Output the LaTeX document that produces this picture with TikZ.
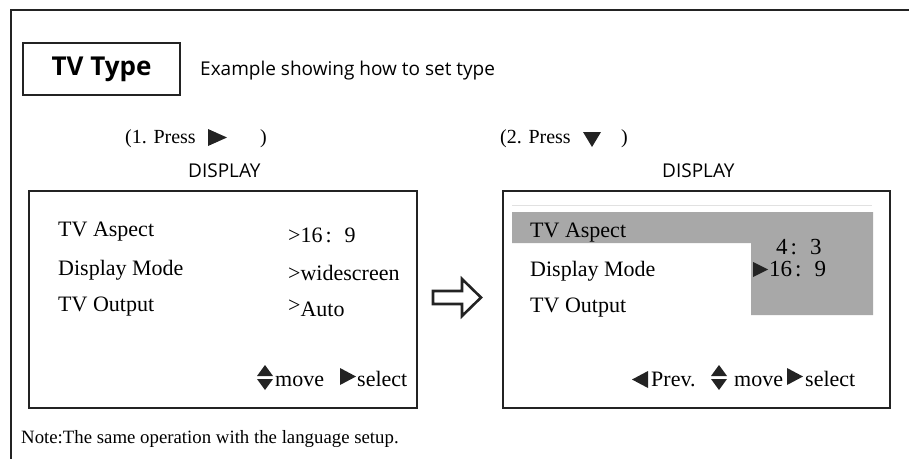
\documentclass[tikz,border=0pt]{standalone}
\usepackage{fontspec}
\setmainfont{Liberation Serif}
\newfontfamily\sansf{Open Sans}
\definecolor{ink}{RGB}{35,35,35}
\definecolor{hl}{RGB}{168,168,168}
\definecolor{faint}{RGB}{225,225,225}
\tikzset{
  frameline/.style={draw=ink, line width=1.8pt},
  screen/.style={draw=ink, line width=1.8pt, anchor=north west, inner sep=0pt},
  lbl/.style={anchor=base west, inner sep=0pt, font=\fontsize{22}{26}\selectfont},
  num/.style={anchor=base west, inner sep=0pt, font=\fontsize{23}{26}\selectfont},
  hdr/.style={anchor=base west, inner sep=0pt, font=\fontsize{20}{24}\selectfont},
  sanslbl/.style={anchor=base west, inner sep=0pt, font=\sansf\fontsize{19}{23}\selectfont},
  tri/.style={fill=ink, draw=none},
}
\begin{document}
\begin{tikzpicture}[x=1pt,y=-1pt]
\useasboundingbox (0,0) rectangle (909,458);
% outer frame (top and left only)
\draw[frameline] (11,459) -- (11,10) -- (910,10);
% title box
\node[draw=ink, line width=1.6pt, minimum width=157pt, minimum height=52pt,
      inner sep=0pt, font=\sansf\bfseries\fontsize{26}{30}\selectfont] (tvtype) at (101.5,69) {TV Type};
\node[sanslbl] (example) at (200,75) {Example showing how to set type};
% step headers
\node[hdr] (press1) at (125,143) {(1. Press};
\fill[tri] (208,129) -- (208,146) -- (227,137.5) -- cycle;
\node[hdr] (press1end) at (260,143) {)};
\node[sanslbl] (disp1) at (188,177) {DISPLAY};
\node[hdr] (press2) at (500,143) {(2. Press};
\fill[tri] (583,132) -- (601,132) -- (592,147) -- cycle;
\node[hdr] (press2end) at (621,143) {)};
\node[sanslbl] (disp2) at (662,177) {DISPLAY};
% screens
\node[screen, minimum width=388pt, minimum height=217pt] (screenL) at (28,190) {};
\node[screen, minimum width=387pt, minimum height=217pt] (screenR) at (502,190) {};
% left screen contents
\node[lbl] (aspL) at (58,236) {TV Aspect};
\node[lbl] (modeL) at (58,275) {Display Mode};
\node[lbl] (outL) at (58,311) {TV Output};
\node[lbl] (v1) at (288,242) {>16\hspace{3pt}:\hspace{13pt}9};
\node[lbl] (v2) at (288,280) {>widescreen};
\node[lbl] (v3) at (288,316) {\raisebox{4pt}{>}Auto};
\fill[tri] (257,376) -- (273,376) -- (265,365) -- cycle;
\fill[tri] (257,379) -- (273,379) -- (265,390) -- cycle;
\node[lbl] (moveL) at (275,386) {move};
\fill[tri] (340,368) -- (340,385) -- (356,376.5) -- cycle;
\node[lbl] (selL) at (357,386) {select};
% transition arrow
\draw[draw=ink, line width=2.6pt, line join=miter]
  (433,291) -- (462,291) -- (462,279) -- (481,297.5) -- (462,316) -- (462,304) -- (433,304) -- cycle;
% right screen contents
\draw[faint, line width=1pt] (512,205) -- (872,205);
\fill[hl] (512,212) -- (873,212) -- (873,315) -- (751,315) -- (751,243) -- (512,243) -- cycle;
\node[lbl] (aspR) at (530,237) {TV Aspect};
\node[lbl] (modeR) at (530,276) {Display Mode};
\node[lbl] (outR) at (530,312) {TV Output};
\node[num] (r43) at (776,254) {4\hspace{3pt}:\hspace{13pt}3};
\fill[tri] (753,262) -- (753,277) -- (768,269.5) -- cycle;
\node[num] (r169) at (769,276) {16\hspace{3pt}:\hspace{13pt}9};
\fill[tri] (648,371) -- (648,388) -- (632,379.5) -- cycle;
\node[lbl] (prevR) at (651,386) {Prev.};
\fill[tri] (711,376) -- (727,376) -- (719,365) -- cycle;
\fill[tri] (711,379) -- (727,379) -- (719,390) -- cycle;
\node[lbl] (moveR) at (734,386) {move};
\fill[tri] (787,368) -- (787,385) -- (803,376.5) -- cycle;
\node[lbl] (selR) at (805,386) {select};
% note
\node[anchor=base west, inner sep=0pt, font=\fontsize{18.8}{22}\selectfont] (note) at (21,443)
  {Note:The same operation with the language setup.};
\end{tikzpicture}
\end{document}
